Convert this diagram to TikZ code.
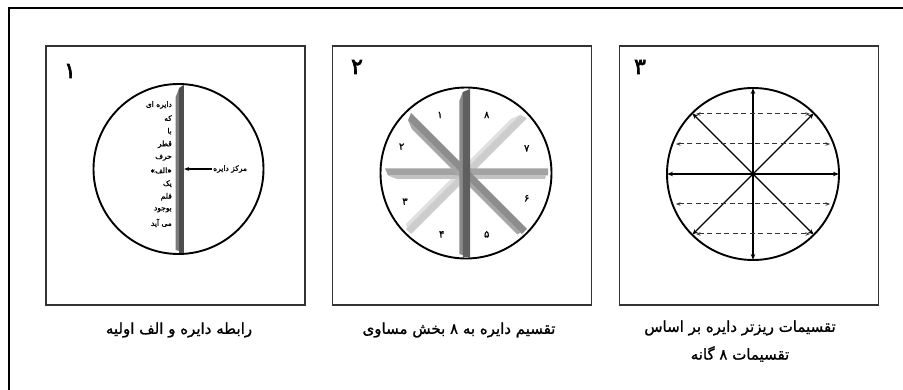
\documentclass[tikz,border=0pt]{standalone}
\usepackage{fontspec}
\TeXXeTstate=1
\newfontfamily\fa[Script=Arabic]{DejaVu Sans}
\newfontfamily\fab[Script=Arabic,FakeBold=1.2]{DejaVu Sans}
\newfontfamily\fabb[Script=Arabic,FakeBold=3]{DejaVu Sans}
\usetikzlibrary{arrows.meta,calc}
\definecolor{gAm}{HTML}{4D4D4D}\definecolor{gAs}{HTML}{7A7A7A}
\definecolor{gBm}{HTML}{5F5F5F}\definecolor{gBs}{HTML}{8A8A8A}
\definecolor{gCm}{HTML}{8D8D8D}\definecolor{gCs}{HTML}{A6A6A6}
\definecolor{gDm}{HTML}{A3A3A3}\definecolor{gDs}{HTML}{C2C2C2}
\definecolor{gEm}{HTML}{CDCDCD}\definecolor{gEs}{HTML}{E0E0E0}
\definecolor{frameg}{HTML}{333333}
\newcommand\plankbar[7]{%
  \begin{scope}[shift={(#1,#2)},rotate=#3]
    \fill[#7] (-#4+2,-#5) -- (#4-3,-#5) -- (#4-12,-#5-3.5) -- (-#4+3,-#5-3.5) -- cycle;
    \fill[#6] (-#4,-#5) -- (#4-3,-#5) -- (#4,#5) -- (-#4,#5) -- cycle;
  \end{scope}}
\tikzset{
  panelbox/.style={draw=frameg,line width=1.7pt,minimum width=259pt,minimum height=259pt,inner sep=0pt},
  ring/.style={draw,circle,line width=1.9pt,inner sep=0pt},
  pnum/.style={inner sep=0pt,font=\fabb\fontsize{22}{22}\selectfont},
  snum/.style={inner sep=0pt,font=\fab\fontsize{10}{10}\selectfont},
  capt/.style={inner sep=0pt,font=\fab\fontsize{15}{16}\selectfont},
  coltxt/.style={inner sep=0pt,anchor=east,font=\fab\fontsize{7.5}{7.5}\selectfont},
  radarr/.style={line width=1.4pt,-{Stealth[length=6pt,width=4.5pt]},shorten >=1pt},
  dasharr/.style={line width=1pt,draw=black!80,dash pattern=on 5pt off 3.5pt,{Stealth[length=4.5pt,width=3.5pt]}-{Stealth[length=4.5pt,width=3.5pt]}},
}
\begin{document}
\begin{tikzpicture}[x=1pt,y=-1pt]
\useasboundingbox (0,0) rectangle (903,390);
\fill[white] (0,0) rectangle (903,390);
% outer frame (top and left)
\coordinate (ftr) at (903,8.5);
\coordinate (ftl) at (8.5,8.5);
\coordinate (fbl) at (8.5,390);
\draw[line width=2pt] (ftr) -- (ftl) -- (fbl);
% panels
\node[panelbox] (p1) at (175.5,175.5) {};
\node[panelbox] (p2) at (462,175.5) {};
\node[panelbox] (p3) at (749,175.5) {};
\node[pnum] (n1) at (70,71) {\beginR ۱\endR};
\node[pnum] (n2) at (357,67) {\beginR ۲\endR};
\node[pnum] (n3) at (640,67) {\beginR ۳\endR};
% ---------- panel 1
\node[ring,minimum size=170pt] (c1) at (178.5,169) {};
\plankbar{181.5}{169}{90}{84}{2.3}{gAm}{gAs}
\node[coltxt] (t1) at (172,105) {\beginR دایره ای\endR};
\node[coltxt] (t2) at (172,118.1) {\beginR که\endR};
\node[coltxt] (t3) at (172,131.2) {\beginR با\endR};
\node[coltxt] (t4) at (172,144.3) {\beginR قطر\endR};
\node[coltxt] (t5) at (172,157.4) {\beginR حرف\endR};
\node[coltxt] (t6) at (172,170.5) {\beginR «الف»\endR};
\node[coltxt] (t7) at (172,183.6) {\beginR یک\endR};
\node[coltxt] (t8) at (172,196.7) {\beginR قلم\endR};
\node[coltxt] (t9) at (172,209.8) {\beginR بوجود\endR};
\node[coltxt] (t10) at (172,222.9) {\beginR می آید\endR};
\node[inner sep=1pt,anchor=west,font=\fab\fontsize{7.5}{7.5}\selectfont] (mk) at (212,169) {\beginR مرکز دایره\endR};
\coordinate (barR) at (184.2,169);
\draw[line width=1.1pt,-{Stealth[length=5pt,width=4pt]}] (mk.west) -- (barR);
% ---------- panel 2
\node[ring,minimum size=171pt] (c2) at (466,173) {};
\plankbar{466.5}{173.5}{45}{82}{3.7}{gEm}{gEs}
\plankbar{466.5}{172}{180}{81.5}{3.5}{gDm}{gDs}
\plankbar{466.5}{173.5}{135}{82}{3.7}{gCm}{gCs}
\plankbar{466.5}{173}{90}{84}{3.7}{gBm}{gBs}
\node[snum] (s1) at (440,115) {۱};
\node[snum] (s8) at (486.7,115) {۸};
\node[snum] (s7) at (526.7,148.3) {۷};
\node[snum] (s6) at (526.7,198.3) {۶};
\node[snum] (s5) at (486.7,234.3) {۵};
\node[snum] (s4) at (441.7,234.3) {۴};
\node[snum] (s3) at (405,201.7) {۳};
\node[snum] (s2) at (401.7,146.7) {۲};
% ---------- panel 3
\node[ring,minimum size=172pt] (c3) at (753,174) {};
\foreach \a in {0,45,...,315} \draw[radarr] (c3.center) -- (c3.\a);
\fill (c3.center) circle (2pt);
\coordinate (da1) at (696,114); \coordinate (db1) at (810,114);
\coordinate (da2) at (676,144); \coordinate (db2) at (830,144);
\coordinate (da3) at (676,204); \coordinate (db3) at (830,204);
\coordinate (da4) at (696,234); \coordinate (db4) at (810,234);
\foreach \i in {1,2,3,4} \draw[dasharr] (da\i) -- (db\i);
% ---------- captions
\node[capt] (cap1) at (179,330) {\beginR رابطه دایره و الف اولیه\endR};
\node[capt] (cap2) at (459,330) {\beginR تقسیم دایره به ۸ بخش مساوی\endR};
\node[capt] (cap3a) at (740,328) {\beginR تقسیمات ریزتر دایره بر اساس\endR};
\node[capt] (cap3b) at (740,354) {\beginR تقسیمات ۸ گانه\endR};
\end{tikzpicture}
\end{document}
